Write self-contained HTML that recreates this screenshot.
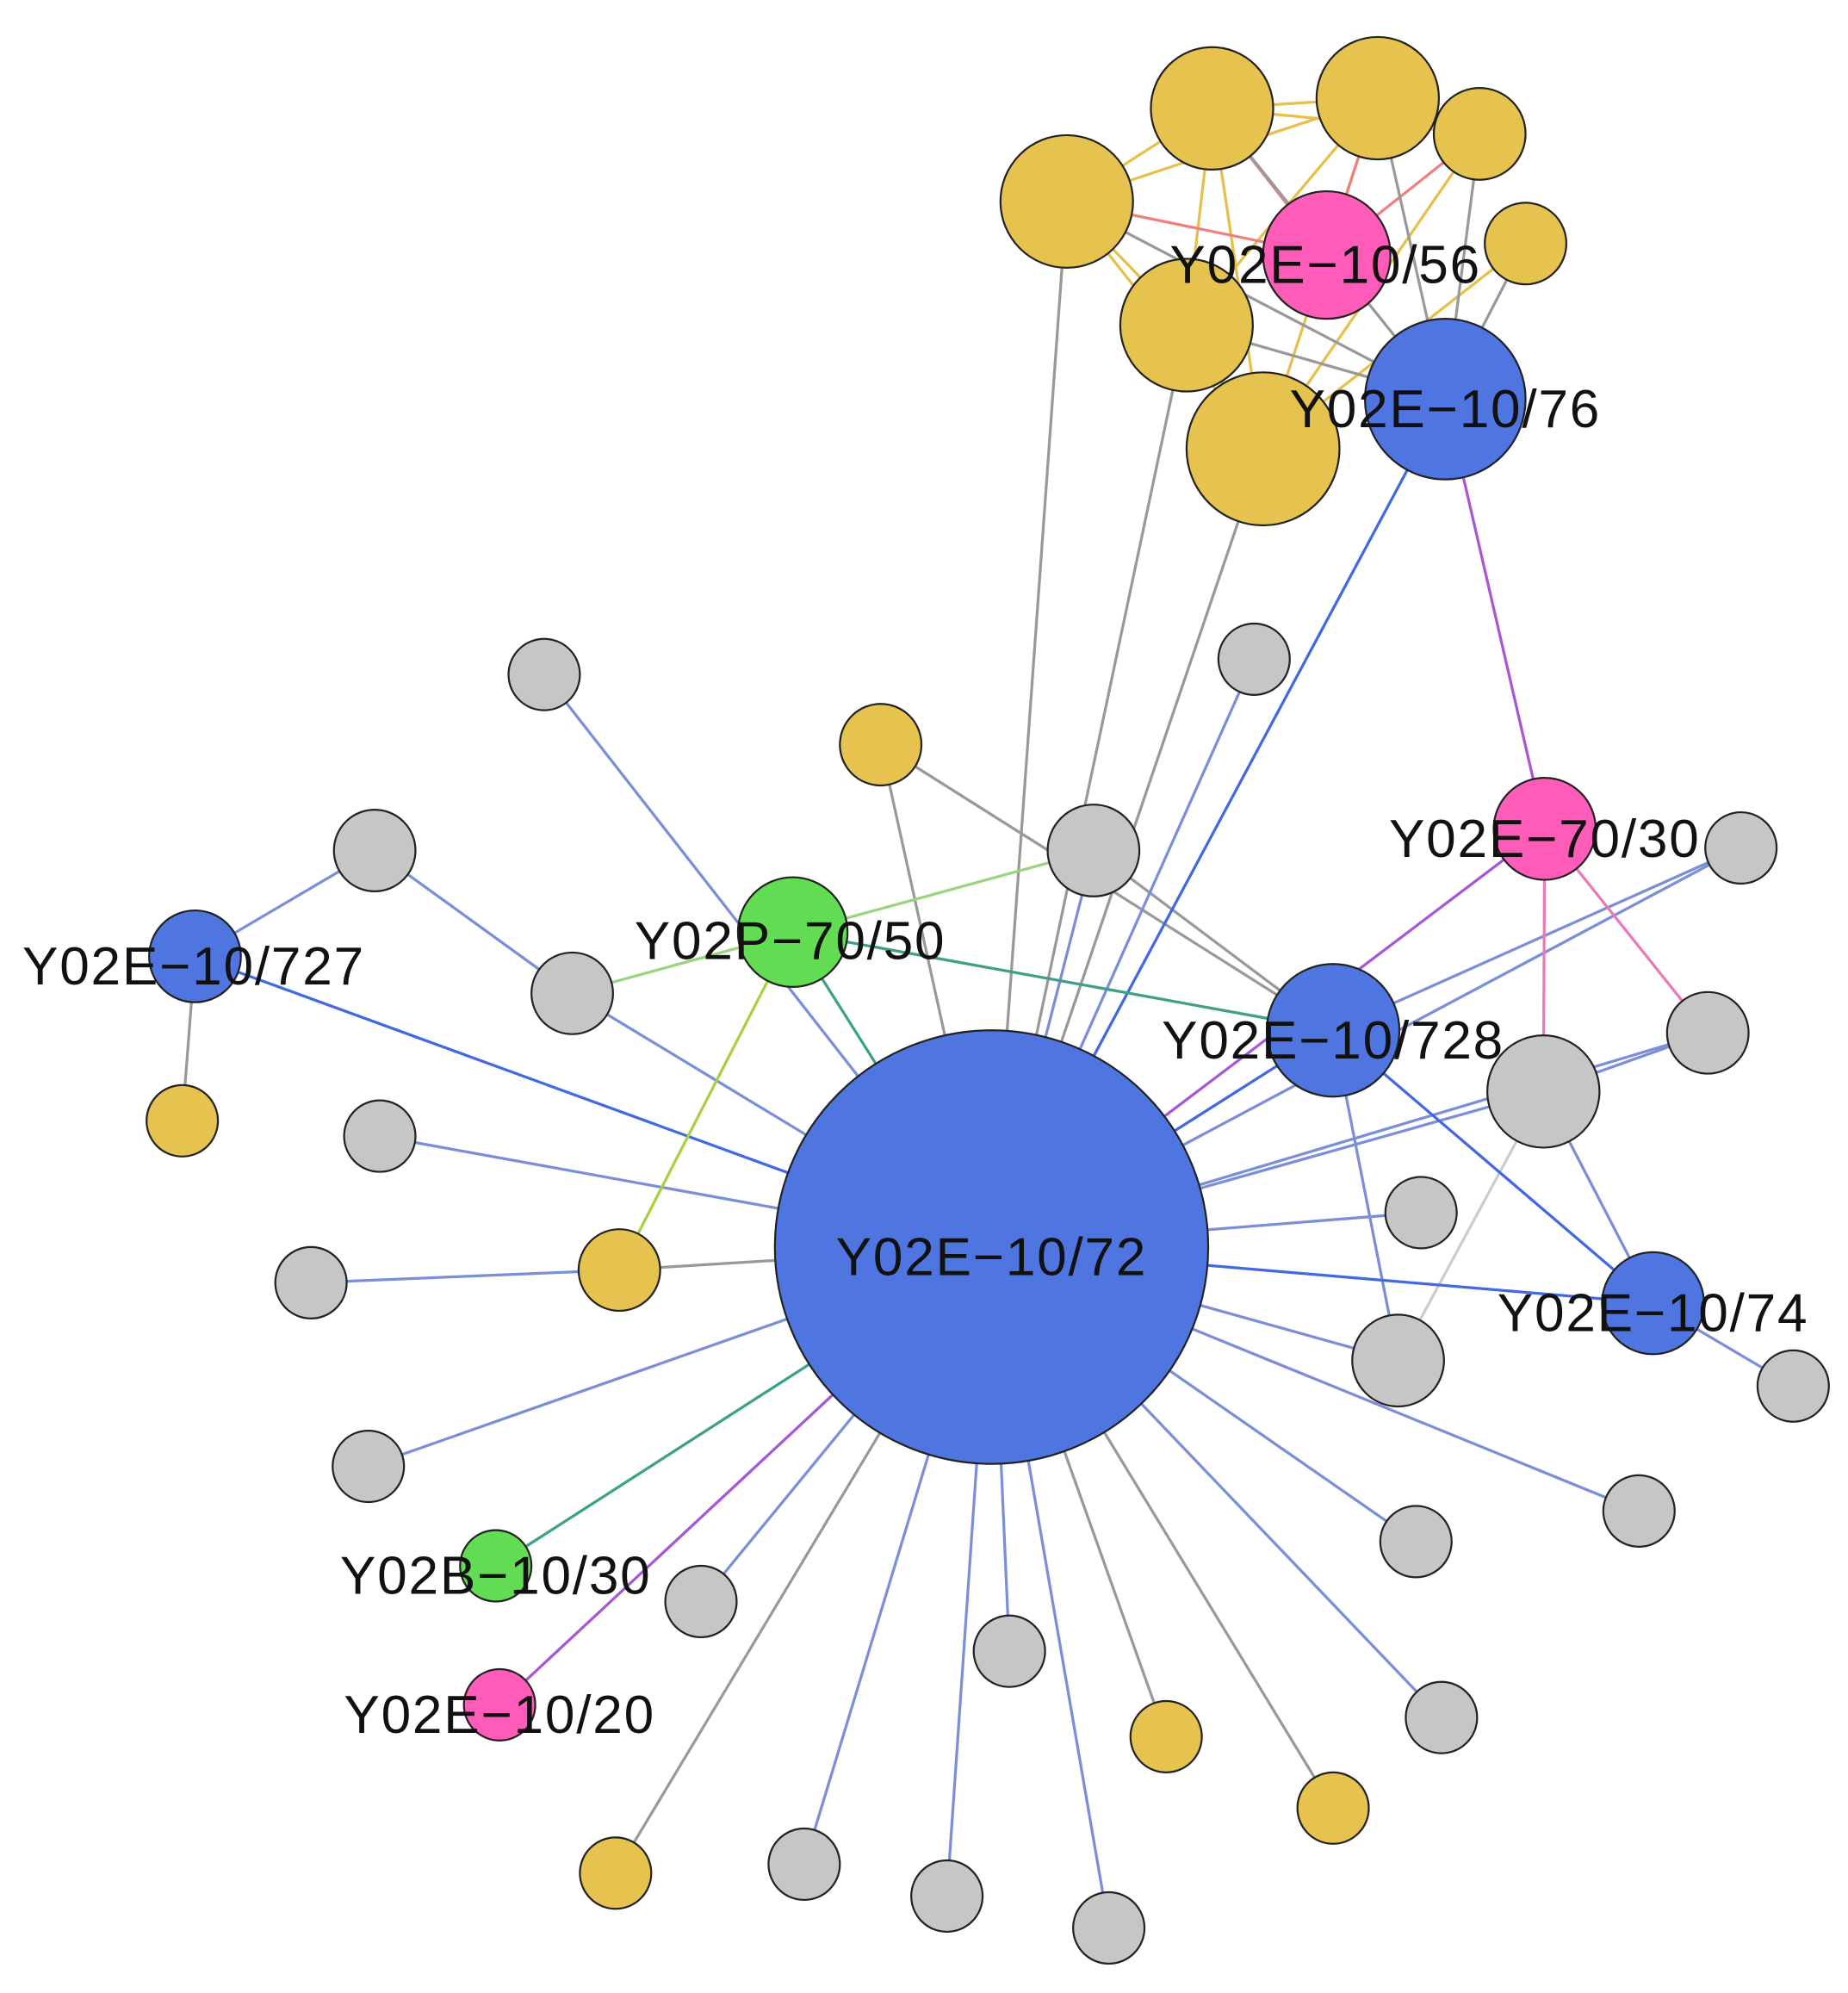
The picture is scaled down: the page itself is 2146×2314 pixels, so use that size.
<!DOCTYPE html>
<html><head><meta charset="utf-8"><style>html,body{margin:0;padding:0;background:#fff}svg{display:block}</style></head>
<body>
<svg width="2146" height="2314" viewBox="0 0 1450 1563" preserveAspectRatio="none" xmlns="http://www.w3.org/2000/svg">
<g stroke-width="2.2" fill="none">
<g stroke="#e6c04a">
<line x1="837" y1="158" x2="951" y2="85"/><line x1="837" y1="158" x2="931" y2="255"/><line x1="837" y1="158" x2="991" y2="352"/>
<line x1="951" y1="85" x2="1081" y2="77"/><line x1="951" y1="85" x2="931" y2="255"/><line x1="951" y1="85" x2="991" y2="352"/>
<line x1="1081" y1="77" x2="1161" y2="105"/><line x1="1081" y1="77" x2="931" y2="255"/><line x1="1161" y1="105" x2="991" y2="352"/>
<line x1="1197" y1="191" x2="991" y2="352"/><line x1="931" y1="255" x2="991" y2="352"/><line x1="837" y1="158" x2="1081" y2="77"/>
<line x1="951" y1="85" x2="1161" y2="105"/><line x1="1081" y1="77" x2="991" y2="352"/>
</g>
<g stroke="#f08080">
<line x1="1041" y1="200" x2="837" y2="158"/><line x1="1041" y1="200" x2="951" y2="85"/><line x1="1041" y1="200" x2="1081" y2="77"/><line x1="1041" y1="200" x2="1161" y2="105"/>
</g>
<g stroke="#999">
<line x1="837" y1="158" x2="1134" y2="313"/><line x1="931" y1="255" x2="1134" y2="313"/><line x1="1081" y1="77" x2="1134" y2="313"/><line x1="1161" y1="105" x2="1134" y2="313"/><line x1="1197" y1="191" x2="1134" y2="313"/><line x1="951" y1="85" x2="1134" y2="313"/>
</g>
<g stroke="#999">
<line x1="778" y1="978" x2="837" y2="158"/><line x1="778" y1="978" x2="931" y2="255"/><line x1="778" y1="978" x2="991" y2="352"/>
<line x1="778" y1="978" x2="691" y2="584"/><line x1="778" y1="978" x2="486" y2="996"/><line x1="778" y1="978" x2="483" y2="1469"/>
<line x1="778" y1="978" x2="915" y2="1362"/><line x1="778" y1="978" x2="1046" y2="1418"/>
<line x1="153" y1="750" x2="143" y2="879"/><line x1="691" y1="584" x2="1046" y2="808"/><line x1="858" y1="667" x2="1046" y2="808"/>
</g>
<line x1="1211" y1="856" x2="1097" y2="1067" stroke="#ccc"/>
<g stroke="#7b8fd8">
<line x1="778" y1="978" x2="984" y2="517"/><line x1="778" y1="978" x2="858" y2="667"/><line x1="778" y1="978" x2="427" y2="529"/>
<line x1="778" y1="978" x2="449" y2="779"/><line x1="778" y1="978" x2="1366" y2="665"/><line x1="778" y1="978" x2="1211" y2="856"/>
<line x1="778" y1="978" x2="1340" y2="810"/><line x1="778" y1="978" x2="1115" y2="951"/><line x1="778" y1="978" x2="1097" y2="1067"/>
<line x1="778" y1="978" x2="1286" y2="1185"/><line x1="778" y1="978" x2="1111" y2="1209"/><line x1="778" y1="978" x2="1131" y2="1347"/>
<line x1="778" y1="978" x2="870" y2="1512"/><line x1="778" y1="978" x2="792" y2="1295"/><line x1="778" y1="978" x2="743" y2="1487"/>
<line x1="778" y1="978" x2="631" y2="1462"/><line x1="778" y1="978" x2="550" y2="1256"/><line x1="778" y1="978" x2="289" y2="1150"/>
<line x1="778" y1="978" x2="298" y2="891"/><line x1="486" y1="996" x2="244" y2="1006"/>
<line x1="153" y1="750" x2="294" y2="667"/><line x1="294" y1="667" x2="449" y2="779"/>
<line x1="1046" y1="808" x2="1366" y2="665"/><line x1="1046" y1="808" x2="1097" y2="1067"/><line x1="1211" y1="856" x2="1297" y2="1022"/>
<line x1="1297" y1="1022" x2="1407" y2="1087"/><line x1="1211" y1="856" x2="1340" y2="810"/>
</g>
<g stroke="#4169e1">
<line x1="778" y1="978" x2="1134" y2="313"/><line x1="778" y1="978" x2="153" y2="750"/><line x1="778" y1="978" x2="1297" y2="1022"/>
<line x1="778" y1="978" x2="1046" y2="808"/><line x1="1046" y1="808" x2="1297" y2="1022"/>
</g>
<g stroke="#a855d8">
<line x1="778" y1="978" x2="1212" y2="650"/><line x1="778" y1="978" x2="392" y2="1337"/><line x1="1212" y1="650" x2="1134" y2="313"/>
</g>
<g stroke="#e87ab8"><line x1="1212" y1="650" x2="1211" y2="856"/><line x1="1212" y1="650" x2="1340" y2="810"/></g>
<g stroke="#3fa08a"><line x1="778" y1="978" x2="622" y2="731"/><line x1="778" y1="978" x2="389" y2="1228"/><line x1="622" y1="731" x2="1046" y2="808"/></g>
<line x1="449" y1="779" x2="858" y2="667" stroke="#9bd47f"/>
<line x1="622" y1="731" x2="486" y2="996" stroke="#a8d040"/>
</g>
<g stroke="#222" stroke-width="1.5">
<g fill="#e6c24e">
<circle cx="837" cy="158" r="52"/><circle cx="951" cy="85" r="48"/><circle cx="1081" cy="77" r="48"/><circle cx="1161" cy="105" r="36"/>
<circle cx="1197" cy="191" r="32"/><circle cx="931" cy="255" r="52"/><circle cx="991" cy="352" r="60"/>
<circle cx="691" cy="584" r="32"/><circle cx="143" cy="879" r="28"/><circle cx="486" cy="996" r="32"/>
<circle cx="915" cy="1362" r="28"/><circle cx="1046" cy="1418" r="28"/><circle cx="483" cy="1469" r="28"/>
</g>
<g fill="#ff5bb8"><circle cx="1041" cy="200" r="50"/><circle cx="1212" cy="650" r="40"/><circle cx="392" cy="1337" r="28"/></g>
<g fill="#4f76e0"><circle cx="778" cy="978" r="170"/><circle cx="1134" cy="313" r="63"/><circle cx="153" cy="750" r="36"/><circle cx="1046" cy="808" r="52"/><circle cx="1297" cy="1022" r="40"/></g>
<g fill="#62dc52"><circle cx="622" cy="731" r="43"/><circle cx="389" cy="1228" r="28"/></g>
<g fill="#c6c6c6">
<circle cx="427" cy="529" r="28"/><circle cx="984" cy="517" r="28"/><circle cx="858" cy="667" r="36"/><circle cx="1366" cy="665" r="28"/>
<circle cx="294" cy="667" r="32"/><circle cx="449" cy="779" r="32"/><circle cx="1340" cy="810" r="32"/><circle cx="1211" cy="856" r="44"/>
<circle cx="298" cy="891" r="28"/><circle cx="1115" cy="951" r="28"/><circle cx="244" cy="1006" r="28"/><circle cx="1097" cy="1067" r="36"/>
<circle cx="1407" cy="1087" r="28"/><circle cx="289" cy="1150" r="28"/><circle cx="1286" cy="1185" r="28"/><circle cx="1111" cy="1209" r="28"/>
<circle cx="550" cy="1256" r="28"/><circle cx="792" cy="1295" r="28"/><circle cx="1131" cy="1347" r="28"/>
<circle cx="631" cy="1462" r="28"/><circle cx="743" cy="1487" r="28"/><circle cx="870" cy="1512" r="28"/>
</g>
</g>
<g font-family="Liberation Sans, sans-serif" font-size="42" letter-spacing="1.2" fill="#111" text-anchor="middle">
<text x="1040" y="222">Y02E−10/56</text>
<text x="1134" y="335">Y02E−10/76</text>
<text x="1212" y="672">Y02E−70/30</text>
<text x="152" y="772">Y02E−10/727</text>
<text x="620" y="752">Y02P−70/50</text>
<text x="1046" y="830">Y02E−10/728</text>
<text x="778" y="1000">Y02E−10/72</text>
<text x="1297" y="1044">Y02E−10/74</text>
<text x="389" y="1250">Y02B−10/30</text>
<text x="392" y="1359">Y02E−10/20</text>
</g>
</svg>
</body></html>
